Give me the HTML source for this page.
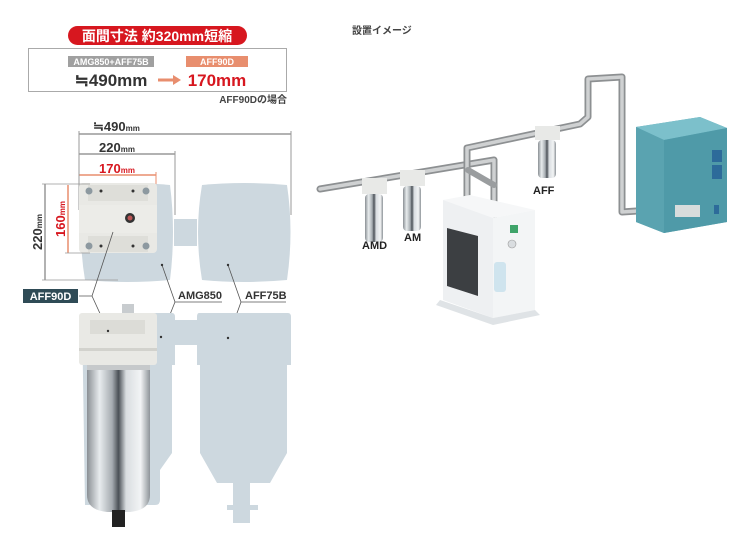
<!DOCTYPE html>
<html><head><meta charset="utf-8"><style>
html,body{margin:0;padding:0;background:#fff;}
svg{display:block;font-family:"Liberation Sans","Noto Sans CJK JP",sans-serif;}
</style></head><body>
<svg width="738" height="544" viewBox="0 0 738 544" xmlns="http://www.w3.org/2000/svg">
<defs>
<linearGradient id="steel" x1="0" x2="1" y1="0" y2="0">
<stop offset="0" stop-color="#8a8f94"/><stop offset="0.2" stop-color="#e8ecee"/><stop offset="0.4" stop-color="#a5abb0"/><stop offset="0.5" stop-color="#4a5056"/><stop offset="0.62" stop-color="#d9dde0"/><stop offset="0.85" stop-color="#f2f4f5"/><stop offset="1" stop-color="#8e9499"/>
</linearGradient>
</defs>

<!-- Top header -->
<rect x="68" y="26" width="179" height="19" rx="9.5" fill="#d7171f"/>
<text x="157" y="41" font-size="14" font-weight="bold" fill="#fff" text-anchor="middle">面間寸法  約320mm短縮</text>
<rect x="28.5" y="48.5" width="258" height="43" fill="#fff" stroke="#aaa" stroke-width="1"/>
<rect x="68" y="56" width="86" height="11" fill="#a0a0a0"/>
<text x="111" y="65" font-size="9" font-weight="bold" fill="#fff" text-anchor="middle">AMG850+AFF75B</text>
<text x="111" y="86" font-size="17" font-weight="bold" fill="#333" text-anchor="middle">≒490mm</text>
<rect x="186" y="56" width="62" height="11" fill="#e88e6e"/>
<text x="217" y="65" font-size="9" font-weight="bold" fill="#fff" text-anchor="middle">AFF90D</text>
<text x="217" y="86" font-size="17" font-weight="bold" fill="#d7171f" text-anchor="middle">170mm</text>
<line x1="158" y1="80" x2="174" y2="80" stroke="#e88e6e" stroke-width="3"/>
<polygon points="173,75 181,80 173,85" fill="#e88e6e"/>
<text x="287" y="103" font-size="10" font-weight="bold" fill="#444" text-anchor="end">AFF90Dの場合</text>

<!-- Dimension lines -->
<text x="93" y="131" font-size="13" font-weight="bold" fill="#333">≒490<tspan font-size="8">mm</tspan></text>
<line x1="79" y1="134" x2="291" y2="134" stroke="#999" stroke-width="1.5"/>
<text x="99" y="152" font-size="13" font-weight="bold" fill="#333">220<tspan font-size="8">mm</tspan></text>
<line x1="79" y1="154" x2="175" y2="154" stroke="#999" stroke-width="1.5"/>
<text x="99" y="173" font-size="13" font-weight="bold" fill="#d7171f">170<tspan font-size="8">mm</tspan></text>
<line x1="79" y1="175" x2="156" y2="175" stroke="#e88e6e" stroke-width="1.5"/>
<line x1="79" y1="131" x2="79" y2="210" stroke="#999" stroke-width="1"/>
<line x1="175" y1="151" x2="175" y2="215" stroke="#999" stroke-width="1"/>
<line x1="291" y1="131" x2="291" y2="215" stroke="#999" stroke-width="1"/>
<line x1="156" y1="172" x2="156" y2="185" stroke="#e88e6e" stroke-width="1"/>

<!-- Top-view silhouettes -->
<path d="M85,185 Q127,181 170,185 Q176,232 170,280 Q127,284 85,280 Q77,232 85,185 Z" fill="#cdd8df"/>
<rect x="174" y="219" width="23" height="27" fill="#cdd8df"/>
<path d="M202,185 Q244,181 287,185 Q294,232 287,280 Q244,284 202,280 Q194,232 202,185 Z" fill="#cdd8df"/>
<!-- product head -->
<rect x="79" y="183" width="78" height="70" rx="4" fill="#e9e9e5"/>
<rect x="88" y="185" width="60" height="16" fill="#deded9"/>
<rect x="88" y="236" width="60" height="16" fill="#deded9"/>
<rect x="79" y="205" width="78" height="28" fill="#ecece8"/>
<circle cx="89" cy="191" r="3.5" fill="#8d99a0"/><circle cx="146" cy="191" r="3.5" fill="#8d99a0"/>
<circle cx="89" cy="246" r="3.5" fill="#8d99a0"/><circle cx="146" cy="246" r="3.5" fill="#8d99a0"/>
<circle cx="101" cy="191" r="1.5" fill="#333"/><circle cx="133" cy="191" r="1.5" fill="#333"/>
<circle cx="101" cy="246" r="1.5" fill="#333"/><circle cx="133" cy="246" r="1.5" fill="#333"/>
<circle cx="130" cy="218" r="5" fill="#333"/><circle cx="130" cy="218" r="2.5" fill="#b55"/>
<!-- vertical dims -->
<line x1="45" y1="184" x2="45" y2="280" stroke="#999" stroke-width="1.5"/>
<line x1="42" y1="184" x2="90" y2="184" stroke="#999" stroke-width="0.8"/>
<line x1="42" y1="280" x2="118" y2="280" stroke="#999" stroke-width="0.8"/>
<text transform="translate(42,232) rotate(-90)" font-size="13" font-weight="bold" fill="#333" text-anchor="middle">220<tspan font-size="8">mm</tspan></text>
<line x1="68" y1="185" x2="68" y2="253" stroke="#e88e6e" stroke-width="1.5"/>
<line x1="65" y1="253" x2="90" y2="253" stroke="#999" stroke-width="0.8"/>
<text transform="translate(65,219) rotate(-90)" font-size="13" font-weight="bold" fill="#d7171f" text-anchor="middle">160<tspan font-size="8">mm</tspan></text>

<!-- Labels -->
<rect x="23" y="289" width="55" height="14" fill="#2f4b56"/>
<text x="50.5" y="300" font-size="11" font-weight="bold" fill="#fff" text-anchor="middle">AFF90D</text>
<polyline points="79,296 92,296 113,232" fill="none" stroke="#555" stroke-width="0.8"/>
<polyline points="92,296 108,331" fill="none" stroke="#555" stroke-width="0.8"/>
<text x="178" y="299" font-size="11" font-weight="bold" fill="#333">AMG850</text>
<polyline points="222,302 175,302 162,265" fill="none" stroke="#555" stroke-width="0.8"/>
<polyline points="175,302 161,337" fill="none" stroke="#555" stroke-width="0.8"/>
<text x="245" y="299" font-size="11" font-weight="bold" fill="#333">AFF75B</text>
<polyline points="286,302 241,302 228,265" fill="none" stroke="#555" stroke-width="0.8"/>
<polyline points="241,302 228,338" fill="none" stroke="#555" stroke-width="0.8"/>
<circle cx="162" cy="265" r="1.2" fill="#333"/><circle cx="228" cy="265" r="1.2" fill="#333"/>

<!-- Bottom silhouettes -->
<path d="M82,313 H172 Q175,313 175,317 V365 H172 V453 L160,470 V500 Q160,505 155,505 H85 Z" fill="#cdd8df"/>
<rect x="174" y="320" width="23" height="25" fill="#cdd8df"/>
<path d="M199,313 H288 Q291,313 291,317 V365 H287 V453 L270,483 H250 V505 H258 V510 H250 V523 H233 V510 H227 V505 H233 V483 H217 L200,453 V365 H197 V317 Q197,313 199,313 Z" fill="#cdd8df"/>
<!-- bottom product -->
<rect x="122" y="304" width="12" height="10" fill="#c8cccf"/>
<rect x="79" y="313" width="78" height="52" rx="3" fill="#e9e9e5"/>
<rect x="90" y="320" width="55" height="14" fill="#dcdcd7"/>
<rect x="79" y="348" width="78" height="3" fill="#d2d2cd"/>
<rect x="87" y="365" width="63" height="6" fill="#c6c9cb"/>
<path d="M87,370 H150 V495 Q150,510 130,512 H107 Q87,510 87,495 Z" fill="url(#steel)"/>
<rect x="112" y="510" width="13" height="17" fill="#222"/>
<circle cx="108" cy="331" r="1.2" fill="#333"/><circle cx="161" cy="337" r="1.2" fill="#333"/><circle cx="228" cy="338" r="1.2" fill="#333"/>

<!-- Right: installation image -->
<text x="352" y="34" font-size="10" font-weight="bold" fill="#444">設置イメージ</text>
<g fill="none" stroke-linecap="round" stroke-linejoin="round">
<polyline points="320,189 494,160 494,215" stroke="#8d9092" stroke-width="7"/>
<polyline points="320,189 494,160 494,215" stroke="#cfd1d2" stroke-width="3.5"/>
<polyline points="467,197 467,148 580,124 588,117 588,79 622,77 622,212 652,210" stroke="#8d9092" stroke-width="7"/>
<polyline points="467,197 467,148 580,124 588,117 588,79 622,77 622,212 652,210" stroke="#cfd1d2" stroke-width="3.5"/>
<line x1="468" y1="170" x2="494" y2="185" stroke="#9a9d9f" stroke-width="6"/>
</g>
<g>
<rect x="362" y="178" width="25" height="16" fill="#e8e9e7"/>
<rect x="365" y="194" width="18" height="48" rx="4" fill="url(#steel)"/>
<rect x="400" y="170" width="25" height="16" fill="#e8e9e7"/>
<rect x="403" y="186" width="18" height="45" rx="4" fill="url(#steel)"/>
<rect x="535" y="126" width="25" height="14" fill="#e8e9e7"/>
<rect x="538" y="140" width="18" height="38" rx="4" fill="url(#steel)"/>
</g>
<text x="362" y="249" font-size="11" font-weight="bold" fill="#222">AMD</text>
<text x="404" y="241" font-size="11" font-weight="bold" fill="#222">AM</text>
<text x="533" y="194" font-size="11" font-weight="bold" fill="#222">AFF</text>
<!-- dryer -->
<polygon points="443,200 493,210 493,318 443,300" fill="#eef0f2"/>
<polygon points="443,200 470,195 535,210 493,218" fill="#f6f7f8"/>
<polygon points="493,218 535,210 535,310 493,318" fill="#f3f5f6"/>
<polygon points="447,228 478,236 478,296 447,286" fill="#3c3f42"/>
<polygon points="440,300 493,318 535,310 540,315 493,325 436,305" fill="#dfe3e6"/>
<rect x="510" y="225" width="8" height="8" fill="#3fa46a"/>
<circle cx="512" cy="244" r="4" fill="#d9dde0" stroke="#999" stroke-width="0.6"/>
<rect x="494" y="262" width="12" height="30" rx="3" fill="#cfe4ee"/>
<!-- compressor cabinet -->
<polygon points="636,127 700,117 727,128 727,222 664,233 636,222" fill="#5fa9b6"/>
<polygon points="636,127 700,117 727,128 664,140" fill="#7cc0cb"/>
<polygon points="664,140 727,128 727,222 664,233" fill="#4f9aa8"/>
<polygon points="636,127 664,140 664,233 636,222" fill="#5aa3b0"/>
<rect x="712" y="150" width="10" height="12" fill="#2d6b9a"/>
<rect x="712" y="165" width="10" height="14" fill="#2d6b9a"/>
<rect x="675" y="205" width="25" height="12" fill="#d8dcdc"/>
<rect x="714" y="205" width="5" height="9" fill="#2d6b9a"/>
</svg>
</body></html>
